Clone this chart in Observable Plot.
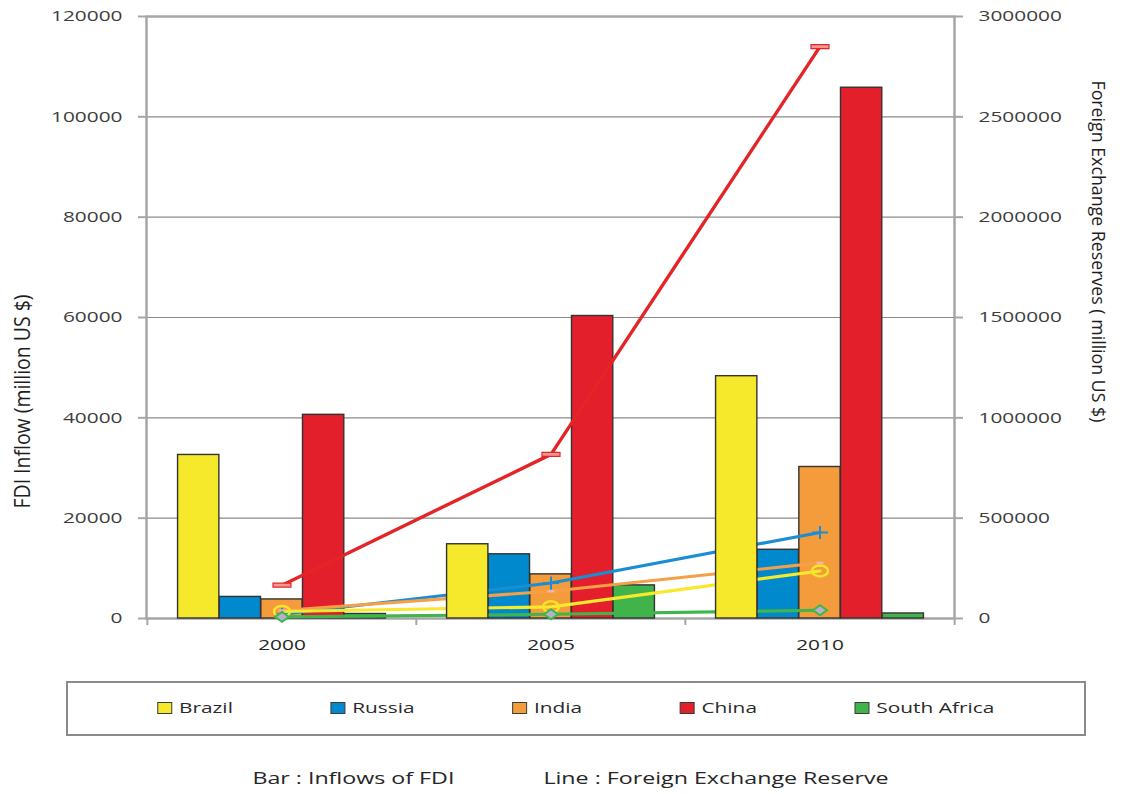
<!DOCTYPE html>
<html>
<head>
<meta charset="utf-8">
<script src="https://cdn.jsdelivr.net/npm/d3@7"></script>
<script src="https://cdn.jsdelivr.net/npm/@observablehq/plot@0.6"></script>
<style>
  html, body { margin: 0; padding: 0; background: #fff; }
  #chart { width: 1122px; height: 794px; overflow: hidden; }
  #chart svg { display: block; }
</style>
</head>
<body>
<div id="chart"></div>
<script>
// BRICS: FDI inflows (bars, left axis) and foreign exchange reserves (lines, right axis), million US $
const years = ["2000", "2005", "2010"];
const countries = ["Brazil", "Russia", "India", "China", "South Africa"];
const barColors = ["#f6e82b", "#0089cc", "#f49b3b", "#e21f2b", "#40b44b"];
const lineColors = ["#f7e92c", "#1b8dd3", "#f5a049", "#e42528", "#3fb54b"];

const fdiBrazil = [32600, 14800, 48300];
const fdiRussia = [4300, 12800, 13700];
const fdiIndia = [3800, 8800, 30200];
const fdiChina = [40600, 60300, 105800];
const fdiSouthAfrica = [900, 6600, 1000];

const reservesBrazil = [35000, 58000, 237000];
const reservesRussia = [21000, 177000, 429000];
const reservesIndia = [40000, 136000, 277000];
const reservesChina = [166000, 818000, 2850000];
const reservesSouthAfrica = [8000, 21000, 41000];

const leftTicks = [0, 20000, 40000, 60000, 80000, 100000, 120000];
const rightTicks = [0, 500000, 1000000, 1500000, 2000000, 2500000, 3000000];

const leftTitle = "FDI Inflow (million US $)";
const rightTitle = "Foreign Exchange Reserves ( million US $)";
const legendNote = ["Bar : Inflows of FDI", "Line : Foreign Exchange Reserve"];

// the right axis spans 25× the left one; reserves are drawn on the left scale divided by this
const reserveRatio = rightTicks[rightTicks.length - 1] / leftTicks[leftTicks.length - 1];

const fdiSeries = [fdiBrazil, fdiRussia, fdiIndia, fdiChina, fdiSouthAfrica];
const reserveSeries = [reservesBrazil, reservesRussia, reservesIndia, reservesChina, reservesSouthAfrica];
const rows = countries.flatMap((country, k) =>
  years.map((year, i) => ({country, k, year, fdi: fdiSeries[k][i], reserve: reserveSeries[k][i]}))
);
const byCountry = (k) => rows.filter((d) => d.k === k);

// layout
const W = 1122, H = 665;
const margin = {left: 146, right: 168, top: 16, bottom: 47};
const midY = (margin.top + H - margin.bottom) / 2;
const band = (W - margin.left - margin.right) / years.length;
const groupWidth = band * 0.773;
const barWidth = groupWidth / countries.length;
const groupPad = (band - groupWidth) / 2;
const axisGray = "#a6a6a6";
const font = "'Open Sans', sans-serif";
const stretch = 1.39; // horizontal text widening

// marker shapes
const ellipse = (rx, ry) => ({
  draw(c) {
    const k = 0.5523;
    c.moveTo(rx, 0);
    c.bezierCurveTo(rx, ry * k, rx * k, ry, 0, ry);
    c.bezierCurveTo(-rx * k, ry, -rx, ry * k, -rx, 0);
    c.bezierCurveTo(-rx, -ry * k, -rx * k, -ry, 0, -ry);
    c.bezierCurveTo(rx * k, -ry, rx, -ry * k, rx, 0);
    c.closePath();
  }
});
const plus = (hw, hh) => ({
  draw(c) { c.moveTo(-hw, 0); c.lineTo(hw, 0); c.moveTo(0, -hh); c.lineTo(0, hh); }
});
const dash = (hw, hh) => ({ draw(c) { c.rect(-hw, -hh, 2 * hw, 2 * hh); } });
const diamond = (hw, hh) => ({
  draw(c) { c.moveTo(-hw, 0); c.lineTo(0, -hh); c.lineTo(hw, 0); c.lineTo(0, hh); c.closePath(); }
});
const markers = [
  {symbol: ellipse(8, 5.5), fill: "none", stroke: "#f5e52a", strokeWidth: 2.5},
  {symbol: plus(8, 6.5), fill: "none", stroke: "#1b8dd3", strokeWidth: 2},
  {symbol: dash(3.5, 1.2), fill: "#f2b5ad", stroke: "none"},
  {symbol: dash(9, 2), fill: "#f29a90", stroke: "#e3242b", strokeWidth: 1.2},
  {symbol: diamond(7, 5), fill: "#b7b1cc", stroke: "#3fb54b", strokeWidth: 2}
];

const barMark = (k) => Plot.barY(byCountry(k), {
  x: "year", y: "fdi", fill: barColors[k], stroke: "#333", strokeWidth: 1.4,
  insetLeft: groupPad + k * barWidth, insetRight: groupPad + (countries.length - 1 - k) * barWidth
});
const lineMark = (k) => Plot.line(byCountry(k), {
  x: "year", y: (d) => d.reserve / reserveRatio, stroke: lineColors[k], strokeWidth: k === 3 ? 3.4 : 3.1
});
const markerMark = (k) => Plot.dot(byCountry(k), {
  x: "year", y: (d) => d.reserve / reserveRatio, ...markers[k]
});

const plot = Plot.plot({
  width: W, height: H,
  marginLeft: margin.left, marginRight: margin.right, marginTop: margin.top, marginBottom: margin.bottom,
  style: {fontFamily: font, fontSize: "15px", background: "#fff", overflow: "visible"},
  x: {type: "band", domain: years, padding: 0},
  y: {domain: [0, leftTicks[leftTicks.length - 1]]},
  marks: [
    Plot.gridY(leftTicks, {stroke: "#8a8a8a", strokeOpacity: 1, strokeWidth: 1.2}),
    Plot.frame({stroke: axisGray, strokeWidth: 2.5}),
    Plot.ruleX(years, {x: (d) => d, y1: 0, y2: 0, insetBottom: -7, dx: -band / 2, stroke: axisGray, strokeWidth: 2}),
    Plot.ruleX(years.slice(-1), {x: (d) => d, y1: 0, y2: 0, insetBottom: -7, dx: band / 2, stroke: axisGray, strokeWidth: 2}),
    Plot.axisY({ticks: leftTicks, tickFormat: (d) => String(d), tickSize: 8, tickPadding: 16,
      stroke: axisGray, strokeWidth: 2, fill: "#3d3d3d", label: null}),
    Plot.axisY({anchor: "right", ticks: rightTicks.map((v) => v / reserveRatio),
      tickFormat: (d) => String(Math.round(d * reserveRatio)), tickSize: 8, tickPadding: 16,
      stroke: axisGray, strokeWidth: 2, fill: "#3d3d3d", label: null}),
    Plot.axisX({tickSize: 0, tickPadding: 21, fill: "#262626", label: null}),
    barMark(1), barMark(2), barMark(3), barMark(4),
    lineMark(3), lineMark(1), lineMark(2), lineMark(0), lineMark(4),
    barMark(0),
    markerMark(3), markerMark(1), markerMark(2), markerMark(0), markerMark(4),
    // axis titles, each read from its start: bottom-up on the left, top-down on the right
    Plot.text([leftTitle], {frameAnchor: "left", rotate: -90, textAnchor: "start",
      dx: 23 - margin.left, dy: 508 - midY, fontSize: 21, fill: "#1e1e1e"}),
    Plot.text([rightTitle], {frameAnchor: "right", rotate: 90, textAnchor: "start",
      dx: 1098 - (W - margin.right), dy: 80 - midY, fontSize: 19, fill: "#1e1e1e"})
  ]
});

const chart = document.getElementById("chart");
chart.appendChild(plot);

// widen horizontal labels; squeeze the rotated titles to their set lengths
const titleLengths = {[leftTitle]: 214, [rightTitle]: 342};
plot.querySelectorAll("text").forEach((t) => {
  const s = t.textContent;
  const L = t.getComputedTextLength();
  const target = titleLengths[s] ?? L * stretch;
  t.setAttribute("textLength", target);
  t.setAttribute("lengthAdjust", "spacingAndGlyphs");
});

// legend box and note below the plot
const below = d3.select(chart).append("svg")
  .attr("width", W).attr("height", 794 - H)
  .style("font-family", font).style("font-size", "15px");

const box = {x: 67, y: 17, w: 1018, h: 53};
below.append("rect")
  .attr("x", box.x).attr("y", box.y).attr("width", box.w).attr("height", box.h)
  .attr("fill", "#fff").attr("stroke", "#8a8a8a").attr("stroke-width", 2);

const swatchW = 14, swatchH = 11, swatchGap = 21.3, itemGap = 98;
const legendY = box.y + box.h / 2 - 0.5;
const items = below.append("g");
const widths = countries.map((c, k) => {
  const t = items.append("text").attr("y", legendY).attr("dy", "0.35em").attr("fill", "#2a2a2a").text(c);
  const w = t.node().getComputedTextLength() * stretch;
  t.attr("textLength", w).attr("lengthAdjust", "spacingAndGlyphs");
  return {t, w};
});
const total = widths.reduce((s, d) => s + swatchGap + d.w, 0) + itemGap * (countries.length - 1);
let cx = box.x + box.w / 2 - total / 2;
widths.forEach(({t, w}, k) => {
  items.append("rect")
    .attr("x", cx).attr("y", legendY - swatchH / 2).attr("width", swatchW).attr("height", swatchH)
    .attr("fill", barColors[k]).attr("stroke", "#3b3b3b").attr("stroke-width", 1);
  t.attr("x", cx + swatchGap);
  cx += swatchGap + w + itemGap;
});

const noteY = 778 - H;
const noteGap = 89;
const noteStretch = 1.45;
const notes = legendNote.map((s) => {
  const t = below.append("text").attr("y", noteY).attr("dy", "0.35em")
    .attr("fill", "#262626").style("font-size", "16px").text(s);
  const w = t.node().getComputedTextLength() * noteStretch;
  t.attr("textLength", w).attr("lengthAdjust", "spacingAndGlyphs");
  return {t, w};
});
let nx = 570.5 - (notes[0].w + noteGap + notes[1].w) / 2;
notes.forEach(({t, w}) => { t.attr("x", nx); nx += w + noteGap; });
</script>
</body>
</html>
